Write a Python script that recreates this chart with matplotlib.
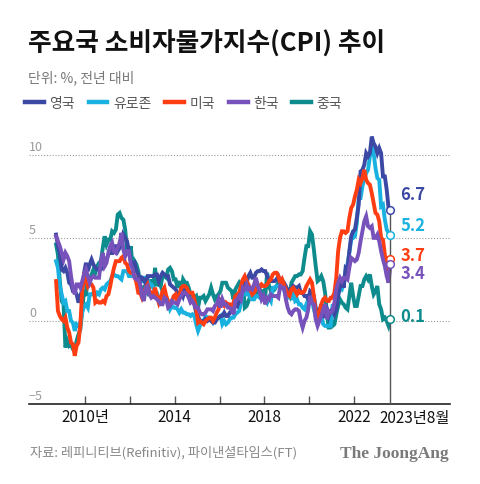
import matplotlib
matplotlib.use('Agg')
import matplotlib.pyplot as plt
import matplotlib.transforms as mtransforms
from matplotlib.lines import Line2D
import numpy as np
import pandas as pd

plt.rcParams['font.family'] = ['Noto Sans CJK KR', 'DejaVu Sans']

# Monthly CPI, % y/y, Sep 2008 - Aug 2023
uk = [5.2, 4.5, 4.1, 3.1,
      3.0, 3.2, 2.9, 2.3, 2.2, 1.8, 1.8, 1.6, 1.1, 1.5, 1.9, 2.9,
      3.5, 3.0, 3.4, 3.7, 3.4, 3.2, 3.1, 3.1, 3.1, 3.2, 3.3, 3.7,
      4.0, 4.4, 4.0, 4.5, 4.5, 4.2, 4.4, 4.5, 5.2, 5.0, 4.8, 4.2,
      3.6, 3.4, 3.5, 3.0, 2.8, 2.4, 2.6, 2.5, 2.2, 2.7, 2.7, 2.7,
      2.7, 2.8, 2.8, 2.4, 2.7, 2.9, 2.8, 2.7, 2.7, 2.2, 2.1, 2.0,
      1.9, 1.7, 1.6, 1.8, 1.5, 1.9, 1.6, 1.5, 1.2, 1.3, 1.0, 0.5,
      0.3, 0.0, 0.0, -0.1, 0.1, 0.0, 0.1, 0.0, -0.1, -0.1, 0.1, 0.2,
      0.3, 0.3, 0.5, 0.3, 0.3, 0.5, 0.6, 0.6, 1.0, 0.9, 1.2, 1.6,
      1.8, 2.3, 2.3, 2.7, 2.9, 2.6, 2.6, 2.9, 3.0, 3.0, 3.1, 3.0,
      3.0, 2.7, 2.5, 2.4, 2.4, 2.4, 2.5, 2.7, 2.4, 2.4, 2.3, 2.1,
      1.8, 1.9, 1.9, 2.1, 2.0, 2.0, 2.1, 1.7, 1.7, 1.5, 1.5, 1.3,
      1.8, 1.7, 1.5, 0.8, 0.5, 0.6, 1.0, 0.2, 0.5, 0.7, 0.3, 0.6,
      0.7, 0.4, 0.7, 1.5, 2.1, 2.5, 2.0, 3.2, 3.1, 4.2, 5.1, 5.4,
      5.5, 6.2, 7.0, 9.0, 9.1, 9.4, 10.1, 9.9, 10.1, 11.1, 10.7, 10.5,
      10.1, 10.4, 10.1, 8.7, 8.7, 7.9, 6.8, 6.7]

euro = [3.6, 3.2, 2.1, 1.6,
        1.1, 1.2, 0.6, 0.6, 0.0, -0.1, -0.6, -0.2, -0.3, -0.1, 0.5, 0.9,
        1.0, 0.8, 1.6, 1.6, 1.7, 1.5, 1.7, 1.6, 1.9, 2.0, 1.9, 2.2,
        2.3, 2.4, 2.7, 2.8, 2.7, 2.7, 2.6, 2.5, 3.0, 3.0, 3.0, 2.7,
        2.7, 2.7, 2.7, 2.6, 2.4, 2.4, 2.4, 2.6, 2.6, 2.5, 2.2, 2.2,
        2.0, 1.8, 1.7, 1.2, 1.4, 1.6, 1.6, 1.3, 1.1, 0.7, 0.9, 0.8,
        0.8, 0.7, 0.5, 0.7, 0.5, 0.5, 0.4, 0.4, 0.3, 0.4, 0.3, -0.2,
        -0.6, -0.3, -0.1, 0.0, 0.3, 0.2, 0.2, 0.1, -0.1, 0.1, 0.1, 0.2,
        0.3, -0.2, 0.0, -0.2, -0.1, 0.1, 0.2, 0.2, 0.4, 0.5, 0.6, 1.1,
        1.8, 2.0, 1.5, 1.9, 1.4, 1.3, 1.3, 1.5, 1.5, 1.4, 1.5, 1.4,
        1.3, 1.1, 1.4, 1.2, 2.0, 2.0, 2.1, 2.1, 2.1, 2.3, 1.9, 1.5,
        1.4, 1.5, 1.4, 1.7, 1.2, 1.3, 1.0, 1.0, 0.8, 0.7, 1.0, 1.3,
        1.4, 1.2, 0.7, 0.3, 0.1, 0.3, 0.4, -0.2, -0.3, -0.3, -0.3, -0.3,
        0.9, 0.9, 1.3, 1.6, 2.0, 1.9, 2.2, 3.0, 3.4, 4.1, 4.9, 5.0,
        5.1, 5.9, 7.4, 7.4, 8.1, 8.6, 8.9, 9.1, 9.9, 10.6, 10.1, 9.2,
        8.6, 8.5, 6.9, 7.0, 6.1, 5.5, 5.3, 5.2]

us = [2.4, 0.6, 0.3, 0.1,
      0.0, 0.2, -0.4, -0.7, -1.3, -1.4, -2.1, -1.5, -1.3, -0.2, 1.8, 2.7,
      2.6, 2.1, 2.3, 2.2, 2.0, 1.1, 1.2, 1.1, 1.1, 1.2, 1.1, 1.5,
      1.6, 2.1, 2.7, 3.2, 3.6, 3.6, 3.6, 3.8, 3.9, 3.5, 3.4, 3.0,
      2.9, 2.9, 2.7, 2.3, 1.7, 1.7, 1.4, 1.7, 2.0, 2.2, 1.8, 1.7,
      1.6, 2.0, 1.5, 1.1, 1.4, 1.8, 2.0, 1.5, 1.2, 1.0, 1.2, 1.5,
      1.6, 1.1, 1.5, 2.0, 2.1, 2.1, 2.0, 1.7, 1.7, 1.7, 1.3, 0.8,
      -0.1, 0.0, -0.1, -0.2, 0.0, 0.1, 0.2, 0.2, 0.0, 0.2, 0.5, 0.7,
      1.4, 1.0, 0.9, 1.1, 1.0, 1.0, 0.8, 1.1, 1.5, 1.6, 1.7, 2.1,
      2.5, 2.7, 2.4, 2.2, 1.9, 1.6, 1.7, 1.9, 2.2, 2.0, 2.2, 2.1,
      2.1, 2.2, 2.4, 2.5, 2.8, 2.9, 2.9, 2.7, 2.3, 2.5, 2.2, 1.9,
      1.6, 1.5, 1.9, 2.0, 1.8, 1.6, 1.8, 1.7, 1.7, 1.8, 2.1, 2.3,
      2.5, 2.3, 1.5, 0.3, 0.1, 0.6, 1.0, 1.3, 1.4, 1.2, 1.2, 1.4,
      1.4, 1.7, 2.6, 4.2, 5.0, 5.4, 5.4, 5.3, 5.4, 6.2, 6.8, 7.0,
      7.5, 7.9, 8.5, 8.3, 8.6, 9.1, 8.5, 8.3, 8.2, 7.7, 7.1, 6.5,
      6.4, 6.0, 5.0, 4.9, 4.0, 3.0, 3.2, 3.7]

korea = [5.1, 4.8, 4.5, 4.1,
         3.7, 4.1, 3.9, 3.6, 2.7, 2.0, 1.6, 2.2, 2.2, 2.0, 2.4, 2.8,
         3.1, 2.7, 2.3, 2.6, 2.7, 2.6, 2.6, 2.6, 3.6, 4.1, 3.3, 3.5,
         4.1, 4.5, 4.7, 4.2, 4.1, 4.4, 4.7, 5.3, 4.3, 3.9, 4.2, 4.2,
         3.4, 3.1, 2.6, 2.5, 2.5, 2.2, 1.5, 1.2, 2.0, 2.1, 1.6, 1.4,
         1.5, 1.4, 1.3, 1.2, 1.0, 1.0, 1.4, 1.3, 0.8, 0.9, 1.2, 1.1,
         1.1, 1.0, 1.3, 1.5, 1.7, 1.7, 1.6, 1.4, 1.1, 1.2, 1.0, 0.8,
         0.8, 0.5, 0.4, 0.4, 0.5, 0.7, 0.7, 0.7, 0.6, 0.9, 1.0, 1.3,
         0.8, 1.3, 1.0, 1.0, 0.8, 0.8, 0.7, 0.4, 1.2, 1.3, 1.5, 1.3,
         2.0, 1.9, 2.2, 1.9, 2.0, 1.9, 2.2, 2.6, 2.1, 1.8, 1.3, 1.5,
         1.0, 1.4, 1.3, 1.6, 1.5, 1.5, 1.5, 1.4, 2.1, 2.0, 2.0, 1.3,
         0.8, 0.5, 0.4, 0.6, 0.7, 0.7, 0.6, 0.0, -0.4, 0.0, 0.2, 0.7,
         1.5, 1.1, 1.0, 0.1, -0.3, 0.0, 0.3, 0.7, 1.0, 0.1, 0.6, 0.5,
         0.6, 1.1, 1.9, 2.3, 2.6, 2.4, 2.6, 2.6, 2.5, 3.2, 3.8, 3.7,
         3.6, 3.7, 4.1, 4.8, 5.4, 6.0, 6.3, 5.7, 5.6, 5.7, 5.0, 5.0,
         5.2, 4.8, 4.2, 3.7, 3.3, 2.7, 2.3, 3.4]

china = [4.6, 4.0, 2.4, 1.2,
         1.0, -1.6, -1.2, -1.5, -1.4, -1.7, -1.8, -1.2, -0.8, -0.5, 0.6, 1.9,
         1.5, 2.7, 2.4, 2.8, 3.1, 2.9, 3.3, 3.5, 3.6, 4.4, 5.1, 4.6,
         4.9, 4.9, 5.4, 5.3, 5.5, 6.4, 6.5, 6.2, 6.1, 5.5, 4.2, 4.1,
         4.5, 3.2, 3.6, 3.4, 3.0, 2.2, 1.8, 2.0, 1.9, 1.7, 2.0, 2.5,
         2.0, 3.2, 2.1, 2.4, 2.1, 2.7, 2.7, 2.6, 3.1, 3.2, 3.0, 2.5,
         2.5, 2.0, 2.4, 1.8, 2.5, 2.3, 2.3, 2.0, 1.6, 1.6, 1.4, 1.5,
         0.8, 1.4, 1.4, 1.5, 1.2, 1.4, 1.6, 2.0, 1.6, 1.3, 1.5, 1.6,
         1.8, 2.3, 2.3, 2.3, 2.0, 1.9, 1.8, 1.3, 1.9, 2.1, 2.3, 2.1,
         2.5, 0.8, 0.9, 1.2, 1.5, 1.5, 1.4, 1.8, 1.6, 1.9, 1.7, 1.8,
         1.5, 2.9, 2.1, 1.8, 1.8, 1.9, 2.1, 2.3, 2.5, 2.5, 2.2, 1.9,
         1.7, 1.5, 2.3, 2.5, 2.7, 2.7, 2.8, 2.8, 3.0, 3.8, 4.5, 4.5,
         5.4, 5.2, 4.3, 3.3, 2.4, 2.5, 2.7, 2.4, 1.7, 0.5, -0.5, 0.2,
         -0.3, -0.2, 0.4, 0.9, 1.3, 1.1, 1.0, 0.8, 0.7, 1.5, 2.3, 1.5,
         0.9, 0.9, 1.5, 2.1, 2.1, 2.5, 2.7, 2.5, 2.8, 2.1, 1.6, 1.8,
         2.1, 1.0, 0.7, 0.1, 0.2, 0.0, -0.3, 0.1]

countries = ['영국', '유로존', '미국', '한국', '중국']
series = [uk, euro, us, korea, china]
colors = ['#3b48a4', '#19b2e0', '#ff3d12', '#7852bb', '#0e8b8d']
draw_order = [4, 1, 0, 2, 3]

# end-value labels (nudged in points to avoid overlap)
end_labels = ['6.7', '5.2', '3.7', '3.4', '0.1']
label_nudge = [11, 7, 3, -6, 2]

y_ticks = [-5, 0, 5, 10]
x_ticks = [2010, 2012, 2014, 2016, 2018, 2020, 2022]
x_ticklabels = ['2010년', '', '2014', '', '2018', '', '2022']

dates = pd.date_range('2008-09-01', '2023-08-01', freq='MS')
t = dates.year + (dates.month - 0.5) / 12

fig = plt.figure(figsize=(4.8, 4.85), dpi=100)
ax = fig.add_axes([0.0604, 0.165, 0.877, 0.565])

for i in draw_order:
    ax.plot(t, series[i], color=colors[i], lw=2.8, solid_joinstyle='miter', zorder=3 + draw_order.index(i))

# vertical marker line at the last month
ymax_end = max(s[-1] for s in series)
ax.plot([t[-1], t[-1]], [-5, ymax_end], color='#555555', lw=1, zorder=9)
for i in range(5):
    ax.plot(t[-1], series[i][-1], 'o', ms=5.5, mfc='white', mec=colors[i], mew=1.1, zorder=10)
    ax.annotate(end_labels[i], (t[-1], series[i][-1]), xytext=(7, label_nudge[i]),
                textcoords='offset points', ha='left', va='center',
                color=colors[i], fontsize=12, fontweight='bold')

ax.set_xlim(2007.5, 2026.28)
ax.set_ylim(-5, 11.5)
ax.set_yticks(y_ticks)
ax.set_yticklabels([])
ax.tick_params(axis='y', length=0)
ax.grid(axis='y', color='#9a9a9a', lw=0.8, linestyle=(0, (1, 1.6)))
ax.set_axisbelow(True)

trans = mtransforms.blended_transform_factory(ax.transAxes, ax.transData)
for v in y_ticks:
    lab = '\u22125' if v < 0 else str(v)
    ax.annotate(lab, (0, v), xycoords=trans, xytext=(0, 1.5), textcoords='offset points',
                ha='left', va='bottom', color='#999999', fontsize=9)

ax.set_xticks(x_ticks)
ax.set_xticklabels(x_ticklabels, fontsize=11, color='#111111')
ax.tick_params(axis='x', direction='in', length=6, width=1, color='#555555', pad=3)
ax.annotate('2023년8월', (t[-1], -5), xytext=(-8, -3.7), textcoords='offset points',
            ha='left', va='top', fontsize=11, color='#111111')
for s in ['top', 'right', 'left']:
    ax.spines[s].set_visible(False)
ax.spines['bottom'].set_color('#222222')
ax.spines['bottom'].set_linewidth(1.2)

fig.text(0.058, 0.909, '주요국 소비자물가지수(CPI) 추이', fontsize=18.5,
         fontweight='bold', color='#111111', va='center', ha='left')
fig.text(0.058, 0.840, '단위: %, 전년 대비', fontsize=10, color='#777777', va='center', ha='left')

handles = [Line2D([0], [0], color=c, lw=3.2) for c in colors]
fig.legend(handles, countries, loc='center left', bbox_to_anchor=(0.052, 0.786),
           ncol=5, frameon=False, fontsize=10, handlelength=1.35, handletextpad=0.4,
           columnspacing=1.0, borderpad=0, borderaxespad=0, labelcolor='#555555')

fig.text(0.062, 0.066, '자료: 레피니티브(Refinitiv), 파이낸셜타임스(FT)', fontsize=9.5,
         color='#888888', va='center', ha='left')
fig.text(0.935, 0.064, 'The JoongAng', fontsize=12.5, fontweight='bold',
         family='Liberation Serif', color='#7a7a7a', va='center', ha='right')

fig.savefig('out.png', dpi=100)
